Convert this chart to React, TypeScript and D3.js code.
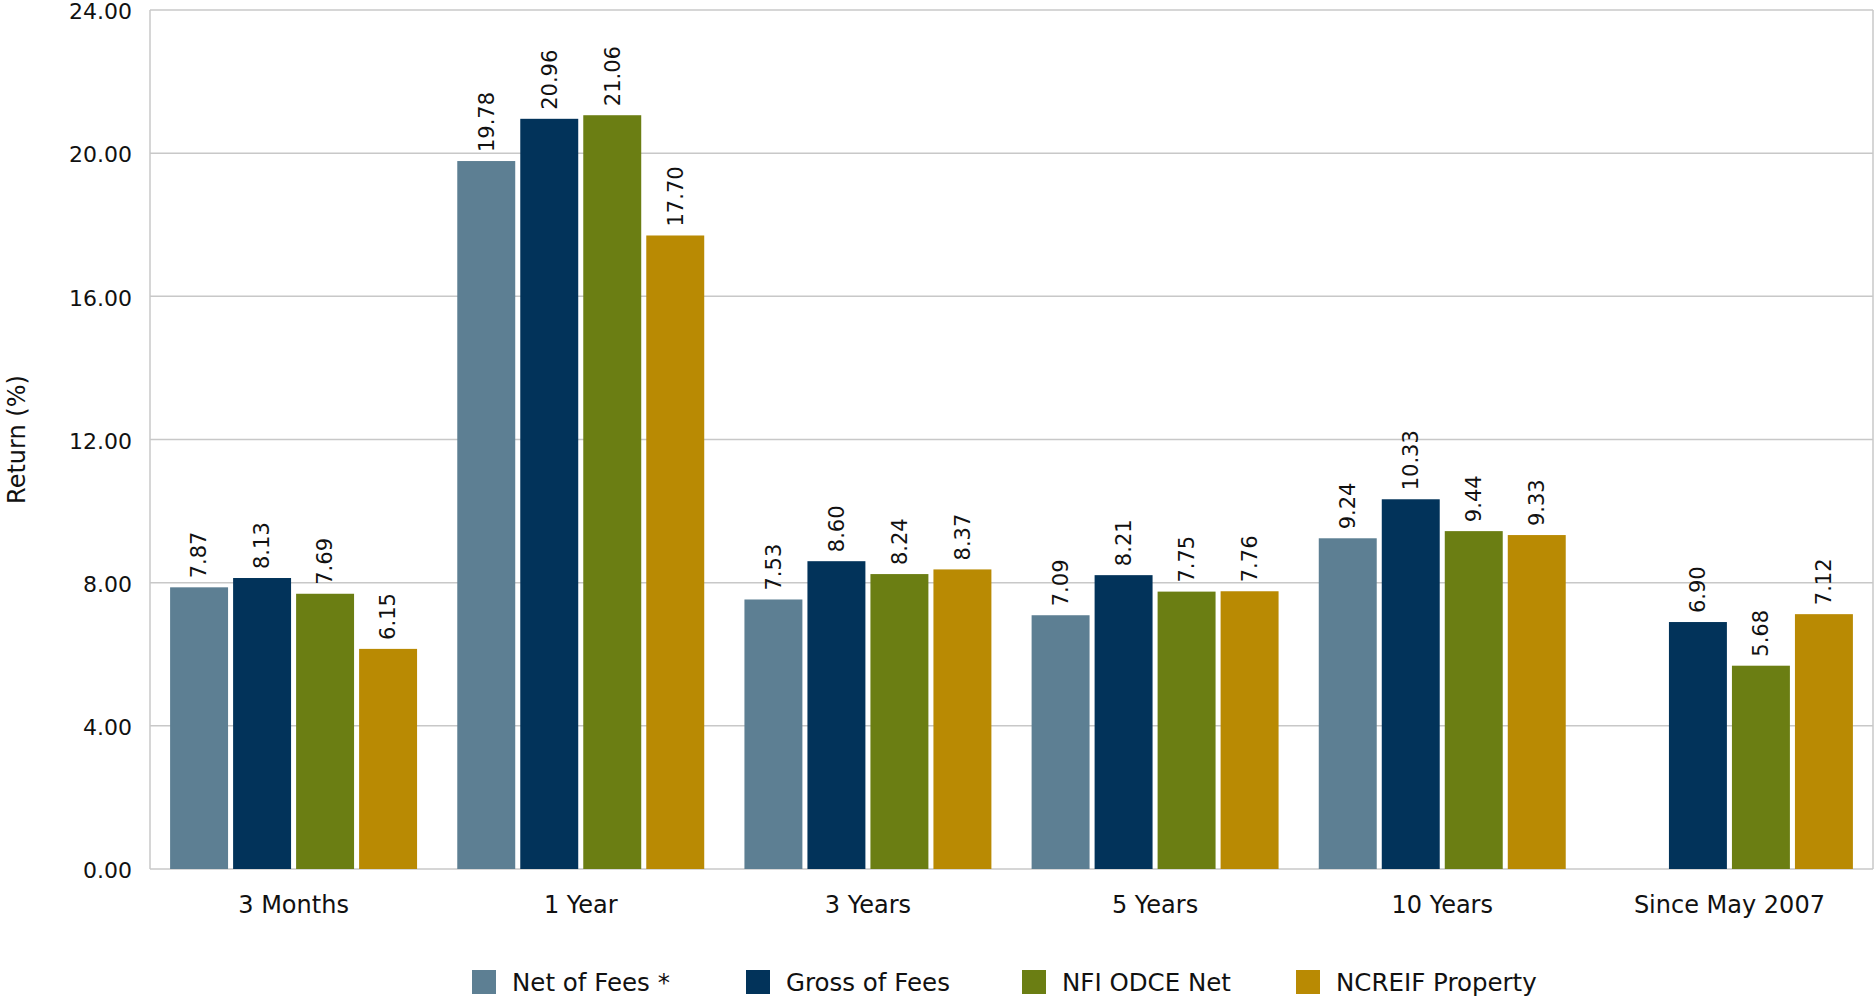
import React from "react";
import * as d3 from "d3";

const categories = ["3 Months", "1 Year", "3 Years", "5 Years", "10 Years", "Since May 2007"];
const seriesNames = ["Net of Fees *", "Gross of Fees", "NFI ODCE Net", "NCREIF Property"];
const seriesColors = ["#5d7f93", "#02335a", "#6b7e13", "#b98a03"];
const netOfFees: (number | null)[] = [7.87, 19.78, 7.53, 7.09, 9.24, null];
const grossOfFees: (number | null)[] = [8.13, 20.96, 8.6, 8.21, 10.33, 6.9];
const nfiOdceNet: (number | null)[] = [7.69, 21.06, 8.24, 7.75, 9.44, 5.68];
const ncreifProperty: (number | null)[] = [6.15, 17.7, 8.37, 7.76, 9.33, 7.12];
const yTicks = [0, 4, 8, 12, 16, 20, 24];

const seriesValues = [netOfFees, grossOfFees, nfiOdceNet, ncreifProperty];

const W = 1875;
const H = 999;
const margin = { left: 150, right: 2, top: 10, bottom: 130 };
const FONT = "'DejaVu Sans', sans-serif";

export default function App() {
  const x0 = d3
    .scaleBand<string>()
    .domain(categories)
    .range([margin.left, W - margin.right])
    .paddingInner(0.14)
    .paddingOuter(0.07);
  const x1 = d3
    .scaleBand<string>()
    .domain(seriesNames)
    .range([0, x0.bandwidth()])
    .paddingInner(0.08);
  const y = d3.scaleLinear().domain([0, 24]).range([H - margin.bottom, margin.top]);

  const legendX = [472, 746, 1022, 1296];

  return (
    <svg
      width={W}
      height={H}
      style={{ position: "absolute", left: 0, top: 0, background: "#fff" }}
      fontFamily={FONT}
    >
      {yTicks.map((t) => (
        <g key={t}>
          <line
            x1={margin.left}
            x2={W - margin.right}
            y1={y(t)}
            y2={y(t)}
            stroke="#c8c8c8"
            strokeWidth={1.5}
          />
          <text
            x={margin.left - 18}
            y={y(t)}
            dy="0.42em"
            textAnchor="end"
            fontSize={22}
            fill="#111"
          >
            {d3.format(".2f")(t)}
          </text>
        </g>
      ))}
      <line x1={margin.left} x2={margin.left} y1={margin.top} y2={y(0)} stroke="#c8c8c8" strokeWidth={1.5} />
      <line x1={W - margin.right} x2={W - margin.right} y1={margin.top} y2={y(0)} stroke="#c8c8c8" strokeWidth={1.5} />

      {categories.map((c, ci) => (
        <g key={c} transform={`translate(${x0(c)},0)`}>
          {seriesNames.map((s, si) => {
            const v = seriesValues[si][ci];
            if (v == null) return null;
            const bx = x1(s)!;
            const cx = bx + x1.bandwidth() / 2;
            return (
              <g key={s}>
                <rect
                  x={bx}
                  y={y(v)}
                  width={x1.bandwidth()}
                  height={y(0) - y(v)}
                  fill={seriesColors[si]}
                />
                <text
                  transform={`translate(${cx},${y(v) - 9}) rotate(-90)`}
                  dy="0.35em"
                  fontSize={21}
                  fill="#111"
                >
                  {d3.format(".2f")(v)}
                </text>
              </g>
            );
          })}
          <text
            x={x0.bandwidth() / 2}
            y={y(0) + 44}
            textAnchor="middle"
            fontSize={24}
            fill="#111"
          >
            {c}
          </text>
        </g>
      ))}

      <text
        transform={`translate(25,${(margin.top + y(0)) / 2}) rotate(-90)`}
        textAnchor="middle"
        fontSize={24}
        fill="#111"
      >
        Return (%)
      </text>

      {seriesNames.map((s, i) => (
        <g key={s} transform={`translate(${legendX[i]},970)`}>
          <rect width={24} height={24} fill={seriesColors[i]} />
          <text x={40} y={12} dy="0.35em" fontSize={24.5} fill="#111">
            {s}
          </text>
        </g>
      ))}
    </svg>
  );
}
